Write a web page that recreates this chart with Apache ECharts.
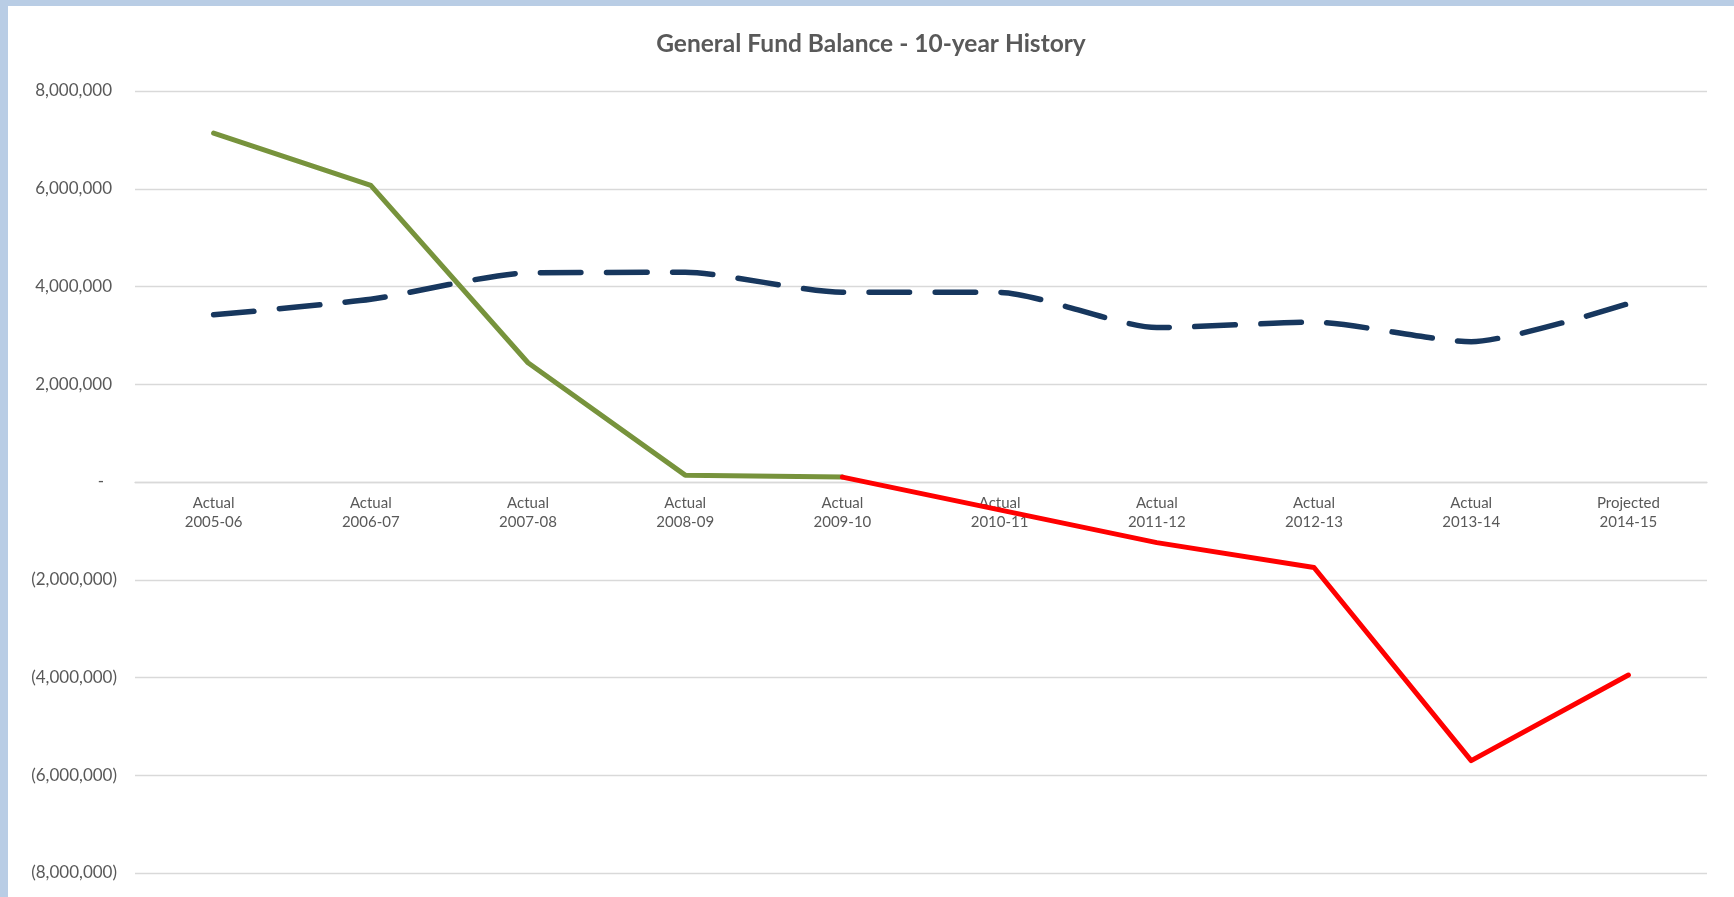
<!DOCTYPE html>
<html>
<head>
<meta charset="utf-8">
<title>General Fund Balance</title>
<script src="https://cdn.jsdelivr.net/npm/echarts@6/dist/echarts.min.js"></script>
<style>
  html, body { margin: 0; padding: 0; background: #b9cde5; }
  #chart { position: absolute; left: 8px; top: 6px; width: 1726px; height: 891px; background: #ffffff; }
</style>
</head>
<body>
<div id="chart"></div>
<script>
// fiscal years on the x axis (two-line labels)
var years = ['Actual\n2005-06', 'Actual\n2006-07', 'Actual\n2007-08', 'Actual\n2008-09', 'Actual\n2009-10',
             'Actual\n2010-11', 'Actual\n2011-12', 'Actual\n2012-13', 'Actual\n2013-14', 'Projected\n2014-15'];

// fund balance while still positive (green) and once it goes negative (red)
var balancePositive = [7140000, 6070000, 2440000, 140000, 100000, null, null, null, null, null];
var balanceNegative = [null, null, null, null, 100000, -570000, -1240000, -1750000, -5700000, -3950000];

// dashed navy line
var dashedSeries = [3420000, 3740000, 4280000, 4290000, 3880000, 3880000, 3160000, 3270000, 2870000, 3650000];

var yMin = -8000000, yMax = 8000000, yStep = 2000000;

var textColor = '#595959';
var fontName = 'Lato, "Open Sans", sans-serif';

var gridTop = 85, gridBottom = 24, chartHeight = 891;
// move the category axis up to the zero line
var plotHeight = chartHeight - gridTop - gridBottom;
var zeroOffset = -plotHeight * (0 - yMin) / (yMax - yMin);

function accounting(v) {
    if (v === 0) return '{zero|-}';
    var s = Math.abs(v).toLocaleString('en-US');
    return v < 0 ? '(' + s + ')' : '{pos|' + s + '}';
}

var myChart = echarts.init(document.getElementById('chart'));

var option = {
    backgroundColor: '#ffffff',
    title: {
        text: 'General Fund Balance - 10-year History',
        left: 'center',
        top: 21,
        textStyle: { color: textColor, fontFamily: fontName, fontSize: 24.5, fontWeight: 'bold' }
    },
    grid: { left: 127, right: 27, top: gridTop, bottom: gridBottom, containLabel: false, outerBoundsMode: 'none' },
    xAxis: {
        type: 'category',
        data: years,
        boundaryGap: true,
        position: 'bottom',
        offset: zeroOffset,
        axisLine: { onZero: false, lineStyle: { color: '#d9d9d9', width: 1.3 } },
        axisTick: { show: false },
        axisLabel: {
            color: textColor, fontFamily: fontName, fontSize: 15,
            lineHeight: 19, margin: 12, interval: 0
        },
        splitLine: { show: false }
    },
    yAxis: {
        type: 'value',
        min: yMin,
        max: yMax,
        interval: yStep,
        axisLine: { show: false },
        axisTick: { show: false },
        splitLine: { lineStyle: { color: '#d9d9d9', width: 1.3 } },
        axisLabel: {
            color: textColor, fontFamily: fontName, fontSize: 17, margin: 18,
            formatter: accounting,
            rich: {
                pos: { color: textColor, fontFamily: fontName, fontSize: 17, padding: [0, 5, 0, 0] },
                zero: { color: textColor, fontFamily: fontName, fontSize: 17, padding: [0, 13, 0, 0] }
            }
        }
    },
    series: [
        {
            name: 'Dashed',
            type: 'line',
            data: dashedSeries,
            smooth: 0.22,
            symbol: 'none',
            lineStyle: { color: '#17375e', width: 5.5, type: [40.5, 25.5], cap: 'round', join: 'round' },
            z: 2
        },
        {
            name: 'Balance',
            type: 'line',
            data: balancePositive,
            symbol: 'none',
            lineStyle: { color: '#77933c', width: 5, cap: 'round', join: 'round' },
            z: 3
        },
        {
            name: 'Deficit',
            type: 'line',
            data: balanceNegative,
            symbol: 'none',
            lineStyle: { color: '#ff0000', width: 5, cap: 'round', join: 'round' },
            z: 3
        }
    ]
};

myChart.setOption(option);
</script>
</body>
</html>
